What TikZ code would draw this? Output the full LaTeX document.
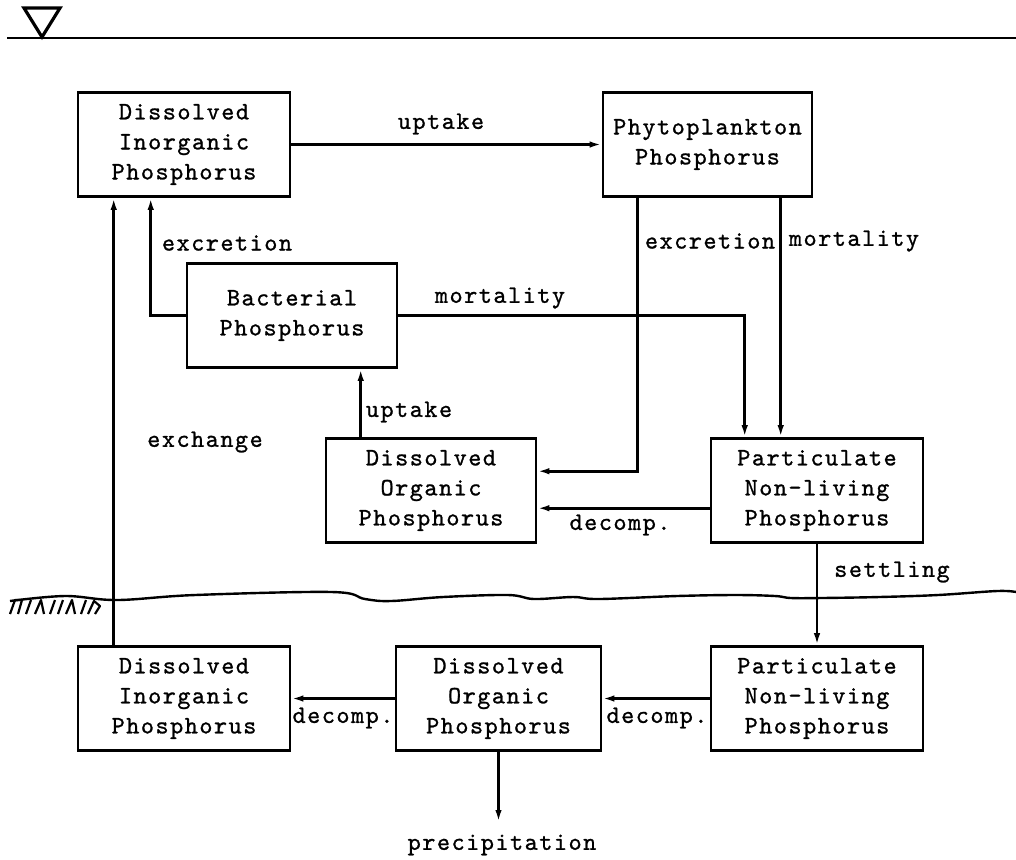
\documentclass[tikz,border=0pt]{standalone}
\usepackage{fontspec}
\newfontfamily\tw{lmmono10-regular}[Extension=.otf,LetterSpace=6,FakeBold=1]
\usetikzlibrary{arrows.meta,calc}

\begin{document}
\begin{tikzpicture}[x=0.5pt,y=-0.5pt,line width=1.3pt,
  txt/.style={font=\tw\fontsize{12.5}{15}\selectfont},
  pool/.style={draw,rectangle,txt,align=center,inner sep=0pt,
    minimum width=#1*0.5pt,minimum height=104*0.5pt},
  lbl/.style={txt,inner sep=0pt},
  flow/.style={-{Latex[length=6pt,width=3.2pt]}}]
\useasboundingbox (0,0) rectangle (1016,859);

% water surface with level mark
\draw (7,38) -- (1016,38);
\draw[line width=1.6pt,line join=miter] (24,8) -- (60,8) -- (42,37) -- cycle;

% sediment-water interface
\draw[line width=1.2pt] plot[smooth,tension=0.6] coordinates {(10,601) (65,596) (117,600) (195,595) (332,592) (365,599) (391,601) (443,597) (508,595) (534,599) (573,597) (599,599) (677,596) (736,595) (775,596) (791,598) (821,598) (879,597) (938,595) (997,591) (1016,592)};
% soil hatching
\begin{scope}[line width=1.1pt,line join=round]
  \draw (10,614) -- (15,600) -- (22,600) -- (18,614);
  \draw (26,614) -- (31,600);
  \draw (35,614) -- (41,600) -- (44,614);
  \draw (50,614) -- (55,600);
  \draw (58,614) -- (63,600);
  \draw (66,614) -- (72,600) -- (75,614);
  \draw (81,614) -- (86,600);
  \draw (88,614) -- (94,601) -- (100,606) -- (95,614);
\end{scope}

% water column pools
\node[pool=212] (dipT) at (184,144.5) {Dissolved\\Inorganic\\Phosphorus};
\node[pool=209] (phy)  at (707.5,144.5) {Phytoplankton\\Phosphorus};
\node[pool=210] (bac)  at (292,315.5) {Bacterial\\Phosphorus};
\node[pool=210] (dopT) at (431,490.5) {Dissolved\\Organic\\Phosphorus};
\node[pool=212] (pnpT) at (817,490.5) {Particulate\\Non-living\\Phosphorus};

% sediment pools
\node[pool=212] (dipB) at (184,698.5) {Dissolved\\Inorganic\\Phosphorus};
\node[pool=205] (dopB) at (498.5,698.5) {Dissolved\\Organic\\Phosphorus};
\node[pool=212] (pnpB) at (817,698.5) {Particulate\\Non-living\\Phosphorus};

\coordinate (sink) at (498.5,822);

% fluxes
\draw[flow] (dipT.east) -- (phy.west);
\draw[flow] (bac.west) -| ($(dipT.south west)+(74,0)$);
\draw[flow] ($(dipB.north west)+(37,0)$) -- ($(dipT.south west)+(37,0)$);
\draw[flow] (bac.east) -| ($(pnpT.north west)+(35,0)$);
\draw[flow] ($(phy.south west)+(36,0)$) |- ($(dopT.north east)+(0,34)$);
\draw[flow] ($(phy.south west)+(179,0)$) -- ($(pnpT.north west)+(71,0)$);
\draw[flow] ($(dopT.north west)+(36,0)$) -- ($(bac.south west)+(175,0)$);
\draw[flow] ($(pnpT.north west)+(0,71)$) -- ($(dopT.north east)+(0,71)$);
\draw[flow] (pnpT.south) -- (pnpB.north);
\draw[flow] (pnpB.west) -- (dopB.east);
\draw[flow] (dopB.west) -- (dipB.east);
\draw[flow] (dopB.south) -- (sink);

% flux labels
\node[lbl] (l1)  at (441,124) {uptake};
\node[lbl] (l2)  at (227,243) {excretion};
\node[lbl] (l3)  at (500,298) {mortality};
\node[lbl] (l4)  at (710,241) {excretion};
\node[lbl] (l5)  at (854,241) {mortality};
\node[lbl] (l6)  at (409,412) {uptake};
\node[lbl] (l7)  at (205,442) {exchange};
\node[lbl] (l8)  at (620,525) {decomp.};
\node[lbl] (l9)  at (892,572) {settling};
\node[lbl] (l10) at (343,718) {decomp.};
\node[lbl] (l11) at (657,718) {decomp.};
\node[lbl] (l12) at (502,845) {precipitation};
\end{tikzpicture}
\end{document}
